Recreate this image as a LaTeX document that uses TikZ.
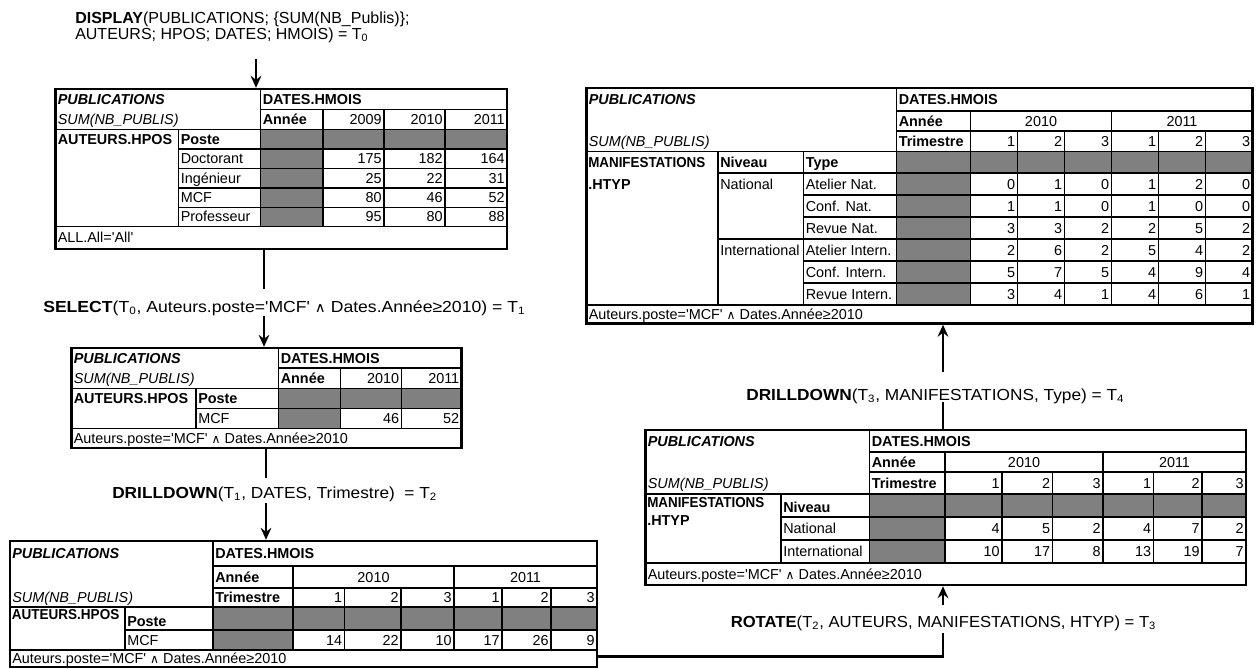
\documentclass[tikz,border=0pt]{standalone}
\usepackage{fontspec}
\setmainfont{Liberation Sans}[Ligatures=TeXOff]
\newfontfamily\symfont{DejaVu Sans}[Scale=0.85]
\usepackage{graphicx}
\usepackage{tikz}
\usetikzlibrary{positioning,arrows.meta,fit}
\usepackage{xcolor}
\definecolor{cellgray}{RGB}{128,128,128}
\newcommand{\tabfont}{\fontsize{10.8}{12}\selectfont}
\newcommand{\opfont}{\fontsize{12}{14}\selectfont}
\newcommand{\cond}{Auteurs.poste='MCF' {\symfont ∧} Dates.Année≥2010}
\newcommand{\manif}{\scalebox{0.93}[1]{\textbf{MANIFESTATIONS}}}

\begin{document}
\begin{tikzpicture}[x=0.75pt,y=-0.75pt,
  tabframe/.style={draw,line width=1.8pt,inner sep=0pt},
  rule/.style={line width=1.25pt},
  grayfill/.style={fill=cellgray},
  cell/.style={inner sep=0pt,text height=7.7pt,text depth=0pt,font=\tabfont},
  cellL/.style={cell,anchor=west},
  cellR/.style={cell,anchor=east},
  cellC/.style={cell,anchor=center},
  oplbl/.style={anchor=base west,inner sep=0pt,font=\opfont},
  link/.style={line width=2pt},
  flow/.style={link,-{Stealth[length=9pt,width=8pt,inset=3pt]}}]
\useasboundingbox (0,0) rectangle (1260,668);

% T0
\fill[grayfill] (260.5,129.5) rectangle (507,149) (260.5,149) rectangle (323,226.5);
\draw[rule] (260.5,109.5) -- (507,109.5) (55.5,129.5) -- (507,129.5)
  (178.5,149) -- (507,149) (178.5,168.5) -- (507,168.5) (178.5,188) -- (507,188)
  (178.5,207.5) -- (507,207.5) (55.5,226.5) -- (507,226.5)
  (260.5,89) -- (260.5,226.5) (178.5,129.5) -- (178.5,226.5)
  (323,109.5) -- (323,226.5) (384,109.5) -- (384,226.5) (445,109.5) -- (445,226.5);
\node[tabframe,fit={(55.5,89) (507,249)}] (t0) {};
\node[cellL] (t0pub) at (57.5,99.25) {\textbf{\textit{PUBLICATIONS}}};
\node[cellL] (t0sum) at (57.5,119.5) {\textit{SUM(NB\_PUBLIS)}};
\node[cellL] (t0dat) at (262.5,99.25) {\textbf{DATES.HMOIS}};
\node[cellL] (t0an) at (262.5,119.5) {\textbf{Année}};
\node[cellR] (t0y1) at (382,119.5) {2009};
\node[cellR] (t0y2) at (443,119.5) {2010};
\node[cellR] (t0y3) at (505,119.5) {2011};
\node[cellL] (t0aut) at (57.5,139.25) {\textbf{AUTEURS.HPOS}};
\node[cellL] (t0pos) at (180.5,139.25) {\textbf{Poste}};
\foreach \lab/\va/\vb/\vc [count=\i] in {Doctorant/175/182/164,Ingénieur/25/22/31,MCF/80/46/52,Professeur/95/80/88} {
  \pgfmathsetmacro{\yc}{139.25+19.4*\i}
  \node[cellL] (t0r\i) at (180.5,\yc) {\lab};
  \node[cellR] (t0r\i-1) at (382,\yc) {\va};
  \node[cellR] (t0r\i-2) at (443,\yc) {\vb};
  \node[cellR] (t0r\i-3) at (505,\yc) {\vc};
}
\node[cellL] (t0all) at (57.5,237.75) {ALL.All='All'};

% T1
\fill[grayfill] (278.5,388.5) rectangle (461.5,408.5) (278.5,408.5) rectangle (340.5,428.5);
\draw[rule] (278.5,368) -- (461.5,368) (71.5,388.5) -- (461.5,388.5)
  (196,408.5) -- (461.5,408.5) (71.5,428.5) -- (461.5,428.5)
  (278.5,348) -- (278.5,428.5) (196,388.5) -- (196,428.5)
  (340.5,368) -- (340.5,428.5) (401.5,368) -- (401.5,428.5);
\node[tabframe,fit={(71.5,348) (461.5,448)}] (t1) {};
\node[cellL] (t1pub) at (73.5,358) {\textbf{\textit{PUBLICATIONS}}};
\node[cellL] (t1sum) at (73.5,378.25) {\textit{SUM(NB\_PUBLIS)}};
\node[cellL] (t1dat) at (280.5,358) {\textbf{DATES.HMOIS}};
\node[cellL] (t1an) at (280.5,378.25) {\textbf{Année}};
\node[cellR] (t1y1) at (399.5,378.25) {2010};
\node[cellR] (t1y2) at (459.5,378.25) {2011};
\node[cellL] (t1aut) at (73.5,398.5) {\textbf{AUTEURS.HPOS}};
\node[cellL] (t1pos) at (198,398.5) {\textbf{Poste}};
\node[cellL] (t1mcf) at (198,418.5) {MCF};
\node[cellR] (t1v1) at (399.5,418.5) {46};
\node[cellR] (t1v2) at (459.5,418.5) {52};
\node[cellL] (t1cond) at (73.5,438.25) {\cond};

% T2
\fill[grayfill] (213,607) rectangle (597,630) (213,630) rectangle (293,650);
\draw[rule] (213,566) -- (597,566) (213,588) -- (597,588) (10,607) -- (597,607)
  (125,630) -- (597,630) (10,650) -- (597,650)
  (213,541) -- (213,650) (293,566) -- (293,650) (454,566) -- (454,650)
  (344.5,588) -- (344.5,650) (401,588) -- (401,650) (502,588) -- (502,650)
  (551,588) -- (551,650) (125,607) -- (125,650);
\node[tabframe,fit={(10,541) (597,667)}] (t2) {};
\node[cellL] (t2pub) at (12,553.5) {\textbf{\textit{PUBLICATIONS}}};
\node[cellL] (t2sum) at (12,597.5) {\textit{SUM(NB\_PUBLIS)}};
\node[cellL] (t2dat) at (215,553.5) {\textbf{DATES.HMOIS}};
\node[cellL] (t2an) at (215,577) {\textbf{Année}};
\node[cellC] (t2y1) at (373.5,577) {2010};
\node[cellC] (t2y2) at (525.5,577) {2011};
\node[cellL] (t2tri) at (215,597.5) {\textbf{Trimestre}};
\node[cellL] (t2aut) at (11.5,614) {\scalebox{0.94}[1]{\textbf{AUTEURS.HPOS}}};
\node[cellL] (t2pos) at (127,621) {\textbf{Poste}};
\node[cellL] (t2mcf) at (127,640) {MCF};
\foreach \q/\v/\x [count=\j] in {1/14/342.5,2/22/399,3/10/452,1/17/500,2/26/549,3/9/595} {
  \node[cellR] (t2q\j) at (\x,597.5) {\q};
  \node[cellR] (t2v\j) at (\x,640) {\v};
}
\node[cellL] (t2cond) at (12,658.5) {\cond};

% T3
\fill[grayfill] (869.5,494) rectangle (1246,517) (869.5,517) rectangle (945,563);
\draw[rule] (869.5,452) -- (1246,452) (869.5,472) -- (1246,472) (645.5,494) -- (1246,494)
  (781,517) -- (1246,517) (781,540) -- (1246,540) (645.5,563) -- (1246,563)
  (869.5,430) -- (869.5,563) (945,452) -- (945,563) (1103,452) -- (1103,563)
  (1002,472) -- (1002,563) (1052.5,472) -- (1052.5,563) (1153.5,472) -- (1153.5,563)
  (1202,472) -- (1202,563) (781,494) -- (781,563);
\node[tabframe,fit={(645.5,430) (1246,585)}] (t3) {};
\node[cellL] (t3pub) at (647.5,441) {\textbf{\textit{PUBLICATIONS}}};
\node[cellL] (t3sum) at (647.5,483) {\textit{SUM(NB\_PUBLIS)}};
\node[cellL] (t3dat) at (871.5,441) {\textbf{DATES.HMOIS}};
\node[cellL] (t3an) at (871.5,462) {\textbf{Année}};
\node[cellC] (t3y1) at (1024,462) {2010};
\node[cellC] (t3y2) at (1174.5,462) {2011};
\node[cellL] (t3tri) at (871.5,483) {\textbf{Trimestre}};
\node[cellL] (t3man) at (647,502) {\manif};
\node[cellL] (t3htyp) at (647,520) {\textbf{.HTYP}};
\node[cellL] (t3niv) at (783,507) {\textbf{Niveau}};
\node[cellL] (t3nat) at (783,528.5) {National};
\node[cellL] (t3int) at (783,551.5) {International};
\foreach \q/\va/\vb/\x [count=\j] in {1/4/10/1000,2/5/17/1050.5,3/2/8/1101,1/4/13/1151.5,2/7/19/1200,3/2/7/1244} {
  \node[cellR] (t3q\j) at (\x,483) {\q};
  \node[cellR] (t3n\j) at (\x,528.5) {\va};
  \node[cellR] (t3i\j) at (\x,551.5) {\vb};
}
\node[cellL] (t3cond) at (647.5,574) {\cond};

% T4
\fill[grayfill] (896.5,151.5) rectangle (1252.5,173) (896.5,173) rectangle (970.5,305);
\draw[rule] (896.5,111) -- (1252.5,111) (896.5,131) -- (1252.5,131) (586.5,151.5) -- (1252.5,151.5)
  (718,173) -- (1252.5,173) (803.5,195) -- (1252.5,195) (803.5,217) -- (1252.5,217)
  (718,239) -- (1252.5,239) (803.5,261) -- (1252.5,261) (803.5,283) -- (1252.5,283)
  (586.5,305) -- (1252.5,305)
  (896.5,88) -- (896.5,305) (970.5,111) -- (970.5,305) (1111.5,111) -- (1111.5,305)
  (1017.5,131) -- (1017.5,305) (1064.5,131) -- (1064.5,305) (1158.5,131) -- (1158.5,305)
  (1205.5,131) -- (1205.5,305) (718,151.5) -- (718,305) (803.5,151.5) -- (803.5,305);
\node[tabframe,fit={(586.5,88) (1252.5,323.5)}] (t4) {};
\node[cellL] (t4pub) at (588.5,99.5) {\textbf{\textit{PUBLICATIONS}}};
\node[cellL] (t4sum) at (588.5,141.25) {\textit{SUM(NB\_PUBLIS)}};
\node[cellL] (t4dat) at (898.5,99.5) {\textbf{DATES.HMOIS}};
\node[cellL] (t4an) at (898.5,121) {\textbf{Année}};
\node[cellC] (t4y1) at (1041,121) {2010};
\node[cellC] (t4y2) at (1182,121) {2011};
\node[cellL] (t4tri) at (898.5,141.25) {\textbf{Trimestre}};
\foreach \q [count=\j] in {1,2,3,1,2,3}
  \node[cellR] (t4q\j) at ({968.5+47*\j},141.25) {\q};
\node[cellL] (t4man) at (588,162.25) {\manif};
\node[cellL] (t4htyp) at (588,184) {\textbf{.HTYP}};
\node[cellL] (t4niv) at (720,162.25) {\textbf{Niveau}};
\node[cellL] (t4typ) at (805.5,162.25) {\textbf{Type}};
\node[cellL] (t4nat) at (720,184) {National};
\node[cellL] (t4int) at (720,250) {International};
\foreach \ty/\va/\vb/\vc/\vd/\ve/\vf [count=\i] in {Atelier Nat./0/1/0/1/2/0,Conf. Nat./1/1/0/1/0/0,Revue Nat./3/3/2/2/5/2,Atelier Intern./2/6/2/5/4/2,Conf. Intern./5/7/5/4/9/4,Revue Intern./3/4/1/4/6/1} {
  \pgfmathsetmacro{\yc}{162+22*\i}
  \node[cellL] (t4ty\i) at (805.5,\yc) {\ty};
  \foreach \v [count=\j] in {\va,\vb,\vc,\vd,\ve,\vf}
    \node[cellR] (t4v\i-\j) at ({968.5+47*\j},\yc) {\v};
}
\node[cellL] (t4cond) at (588.5,314.25) {\cond};

% operations
\node[oplbl] (opdisp) at (75,23) {\textbf{DISPLAY}(PUBLICATIONS; \{SUM(NB\_Publis)\};};
\node[oplbl] (opdisp2) at (75,39) {AUTEURS; HPOS; DATES; HMOIS) = T\textsubscript{0}};
\node[oplbl] (opsel) at (43,312) {\scalebox{1.1}[1]{\textbf{SELECT}(T\textsubscript{0}, Auteurs.poste='MCF' {\symfont ∧} Dates.Année≥2010) = T\textsubscript{1}}};
\node[oplbl] (opdd1) at (112,498) {\scalebox{1.08}[1]{\textbf{DRILLDOWN}(T\textsubscript{1}, DATES, Trimestre)~~= T\textsubscript{2}}};
\node[oplbl] (oprot) at (730.5,627) {\scalebox{1.04}[1]{\textbf{ROTATE}(T\textsubscript{2}, AUTEURS, MANIFESTATIONS, HTYP) = T\textsubscript{3}}};
\node[oplbl] (opdd2) at (746,400) {\scalebox{1.08}[1]{\textbf{DRILLDOWN}(T\textsubscript{3}, MANIFESTATIONS, Type) = T\textsubscript{4}}};

% connectors
\coordinate (k0) at (256,0);
\coordinate (k1) at (264,0);
\coordinate (k2) at (266,0);
\coordinate (k3) at (943,656.7);
\draw[flow] ([yshift=-15pt]opdisp2.base -| k0) -- (t0.north -| k0);
\draw[link] (t0.south -| k1) -- ([yshift=17pt]opsel.base -| k1);
\draw[flow] ([yshift=-3pt]opsel.base -| k1) -- (t1.north -| k1);
\draw[link] (t1.south -| k2) -- ([yshift=15pt]opdd1.base -| k2);
\draw[flow] ([yshift=-3.75pt]opdd1.base -| k2) -- (t2.north -| k2);
\draw[link] (t2.east |- k3) -- (k3) -- ([yshift=-4.5pt]oprot.base -| k3);
\draw[flow] ([yshift=16.5pt]oprot.base -| k3) -- (t3.south -| k3);
\draw[link] (t3.north -| k3) -- ([yshift=-1.5pt]opdd2.base -| k3);
\draw[flow] ([yshift=21pt]opdd2.base -| k3) -- (t4.south -| k3);
\end{tikzpicture}
\end{document}
